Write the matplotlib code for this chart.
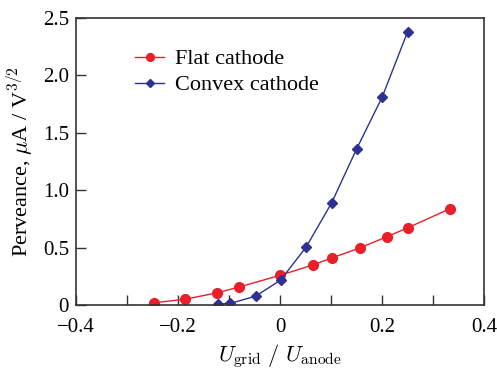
import matplotlib
matplotlib.use('Agg')
import matplotlib.pyplot as plt
from matplotlib.ticker import MultipleLocator, FuncFormatter

plt.rcParams['font.family'] = 'Liberation Serif'
plt.rcParams['mathtext.fontset'] = 'cm'

# data
flat_x = [-0.248, -0.186, -0.124, -0.081, 0.0, 0.064, 0.101, 0.157, 0.209, 0.250, 0.333]
flat_y = [0.02, 0.052, 0.107, 0.157, 0.26, 0.35, 0.41, 0.50, 0.595, 0.673, 0.84]
convex_x = [-0.122, -0.098, -0.048, 0.001, 0.051, 0.101, 0.150, 0.200, 0.250]
convex_y = [0.01, 0.015, 0.078, 0.218, 0.505, 0.89, 1.36, 1.81, 2.38]

red = '#e8202a'
blue = '#2e3192'

fig = plt.figure(figsize=(4.97, 3.69), dpi=100)
ax = fig.add_axes([0.153, 0.173, 0.821, 0.778])

ax.plot(flat_x, flat_y, color=red, lw=1.0, marker='o', ms=7, label='Flat cathode')
ax.plot(convex_x, convex_y, color=blue, lw=1.0, marker='D', ms=5.5, label='Convex cathode')

ax.set_xlim(-0.4, 0.4)
ax.set_ylim(0, 2.5)
ax.xaxis.set_major_locator(MultipleLocator(0.2))
ax.xaxis.set_minor_locator(MultipleLocator(0.1))
ax.yaxis.set_major_locator(MultipleLocator(0.5))


def fmt_x(v, pos):
    if abs(v) < 1e-9:
        return '0'
    return ('%.1f' % v).replace('-', '\u2212')


def fmt_y(v, pos):
    if abs(v) < 1e-9:
        return '0'
    return '%.1f' % v


ax.xaxis.set_major_formatter(FuncFormatter(fmt_x))
ax.yaxis.set_major_formatter(FuncFormatter(fmt_y))
ax.tick_params(axis='both', which='both', direction='in', length=7, width=1,
               labelsize=15, color='#333333', top=False, right=False)
ax.tick_params(axis='x', pad=9)
ax.tick_params(axis='y', pad=5)

for s in ax.spines.values():
    s.set_color('#333333')
    s.set_linewidth(1.2)

ax.set_xlabel(r'$U_{\rm grid}\ /\ U_{\rm anode}$', fontsize=16, labelpad=4)
ax.set_ylabel(r'Perveance, $\mu$A / V$^{3/2}$', fontsize=16, labelpad=6)

ax.legend(loc='upper left', bbox_to_anchor=(0.145, 0.893), frameon=False, fontsize=16,
          handlelength=1.3, handletextpad=0.5, labelspacing=0.25, borderaxespad=0,
          borderpad=0, markerscale=0.8)

fig.savefig('out.png', dpi=100)
